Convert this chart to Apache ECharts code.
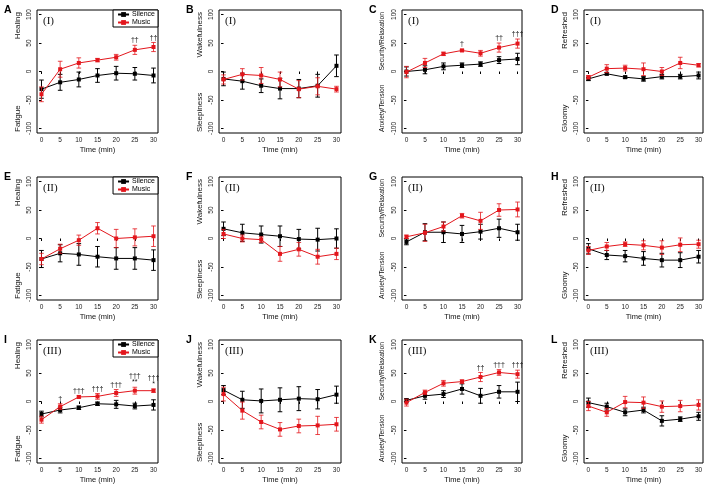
<!DOCTYPE html>
<html>
<head>
<meta charset="utf-8">
<script src="https://cdn.jsdelivr.net/npm/echarts@6.0.0/dist/echarts.min.js"></script>
<style>html,body{margin:0;padding:0;background:#fff;}#chart{width:708px;height:488px;}</style>
</head>
<body>
<div id="chart"></div>
<script>
// ---------------- data ----------------
const times = [0, 5, 10, 15, 20, 25, 30];
const xTicks = [0, 5, 10, 15, 20, 25, 30];
const yTicks = [-100, -50, 0, 50, 100];
const seriesNames = ['Silence', 'Music'];

const A_sil = [-31, -19, -14, -7, -3, -4, -7];
const A_silSE = [16, 14, 13, 12, 12, 11, 13];
const A_mus = [-40, 4, 15, 20, 25, 38, 43];
const A_musSE = [13, 14, 9, 3, 5, 8, 8];
const A_ann = ['', '', '', '', '', '††', '††'];

const B_sil = [-13, -17, -25, -30, -30, -25, 10];
const B_silSE = [12, 14, 12, 18, 16, 20, 19];
const B_mus = [-14, -5, -7, -14, -31, -26, -31];
const B_musSE = [8, 10, 14, 13, 15, 15, 5];
const B_ann = ['', '', '', '', '', '', ''];

const C_sil = [0, 3, 9, 11, 13, 20, 22];
const C_silSE = [8, 7, 6, 4, 4, 6, 10];
const C_mus = [-1, 15, 31, 37, 32, 42, 49];
const C_musSE = [10, 8, 3, 2, 5, 8, 8];
const C_ann = ['', '', '', '†', '', '††', '†††'];

const D_sil = [-13, -4, -10, -13, -9, -9, -7];
const D_silSE = [3, 2, 2, 4, 4, 4, 6];
const D_mus = [-10, 5, 6, 4, 0, 15, 11];
const D_musSE = [3, 7, 5, 11, 7, 10, 3];
const D_ann = ['', '', '', '', '', '', ''];

const E_sil = [-36, -26, -28, -32, -35, -35, -38];
const E_silSE = [15, 15, 19, 18, 19, 19, 18];
const E_mus = [-36, -18, -3, 18, 0, 2, 4];
const E_musSE = [10, 8, 9, 10, 16, 15, 18];
const E_ann = ['', '', '', '', '', '', ''];

const F_sil = [17, 10, 7, 4, -1, -2, 0];
const F_silSE = [12, 15, 15, 18, 17, 20, 17];
const F_mus = [8, 0, -2, -27, -19, -32, -27];
const F_musSE = [8, 6, 5, 13, 12, 13, 10];
const F_ann = ['', '', '', '', '', '', ''];

const G_sil = [-6, 11, 11, 8, 12, 18, 11];
const G_silSE = [5, 15, 18, 15, 13, 16, 14];
const G_mus = [3, 10, 21, 40, 31, 50, 51];
const G_musSE = [3, 15, 8, 4, 15, 11, 13];
const G_ann = ['', '', '', '', '', '', ''];

const H_sil = [-18, -29, -31, -35, -38, -38, -32];
const H_silSE = [9, 8, 10, 12, 12, 13, 11];
const H_mus = [-21, -14, -10, -12, -16, -11, -10];
const H_musSE = [7, 7, 4, 8, 12, 12, 7];
const H_ann = ['', '', '', '', '', '', ''];

const I_sil = [-22, -15, -11, -4, -5, -8, -6];
const I_silSE = [5, 5, 3, 3, 7, 5, 9];
const I_mus = [-32, -9, 8, 9, 15, 19, 19];
const I_musSE = [6, 5, 2, 5, 6, 6, 3];
const I_ann = ['', '†', '†††', '†††', '†††', '†††\n**', '†††\n*'];

const J_sil = [20, 3, 1, 3, 5, 4, 12];
const J_silSE = [8, 15, 21, 21, 21, 17, 15];
const J_mus = [13, -16, -36, -49, -43, -42, -40];
const J_musSE = [12, 15, 12, 12, 12, 16, 12];
const J_ann = ['', '', '', '', '', '', ''];

const K_sil = [2, 10, 13, 22, 10, 17, 17];
const K_silSE = [3, 6, 6, 9, 13, 11, 17];
const K_mus = [-2, 16, 32, 35, 43, 51, 48];
const K_musSE = [6, 4, 5, 3, 8, 5, 7];
const K_ann = ['', '', '', '', '††', '†††', '†††'];

const L_sil = [-2, -9, -19, -15, -34, -31, -26];
const L_silSE = [8, 6, 6, 5, 9, 4, 7];
const L_mus = [-8, -19, -1, -2, -9, -8, -6];
const L_musSE = [8, 7, 10, 10, 10, 10, 9];
const L_ann = ['', '', '', '', '', '', ''];

const panelLetters = ['A','B','C','D','E','F','G','H','I','J','K','L'];
const phaseLabels = ['(I)','(II)','(III)'];
const topTitles = ['Healing','Wakefulness','Security/Relaxation','Refreshed'];
const bottomTitles = ['Fatigue','Sleepiness','Anxiety/Tension','Gloomy'];

const panelData = [
  [A_sil, A_silSE, A_mus, A_musSE, A_ann],
  [B_sil, B_silSE, B_mus, B_musSE, B_ann],
  [C_sil, C_silSE, C_mus, C_musSE, C_ann],
  [D_sil, D_silSE, D_mus, D_musSE, D_ann],
  [E_sil, E_silSE, E_mus, E_musSE, E_ann],
  [F_sil, F_silSE, F_mus, F_musSE, F_ann],
  [G_sil, G_silSE, G_mus, G_musSE, G_ann],
  [H_sil, H_silSE, H_mus, H_musSE, H_ann],
  [I_sil, I_silSE, I_mus, I_musSE, I_ann],
  [J_sil, J_silSE, J_mus, J_musSE, J_ann],
  [K_sil, K_silSE, K_mus, K_musSE, K_ann],
  [L_sil, L_silSE, L_mus, L_musSE, L_ann]
];

// ---------------- layout & style ----------------
const colLeft = [37, 219, 402, 584];
const colWidth = [121, 122, 120, 119];
const rowTop = [10, 177, 340];
const rowHeight = 123;
const SANS = 'Liberation Sans, Arial, sans-serif';
const SERIF = 'Liberation Serif, Times New Roman, serif';
const BLACK = '#000000';
const RED = '#e3161c';
const RED_ERR = 'rgba(227,22,28,0.8)';

function errRender(color) {
  return function (params, api) {
    const x = api.value(0);
    const lo = api.coord([x, api.value(1)]);
    const hi = api.coord([x, api.value(2)]);
    const w = 2.3;
    const st = { stroke: color, lineWidth: 1 };
    return {
      type: 'group',
      children: [
        { type: 'line', shape: { x1: lo[0], y1: lo[1], x2: hi[0], y2: hi[1] }, style: st },
        { type: 'line', shape: { x1: lo[0] - w, y1: lo[1], x2: lo[0] + w, y2: lo[1] }, style: st },
        { type: 'line', shape: { x1: hi[0] - w, y1: hi[1], x2: hi[0] + w, y2: hi[1] }, style: st }
      ]
    };
  };
}

function annRender(labels) {
  return function (params, api) {
    const p = api.coord([api.value(0), api.value(1)]);
    const txt = labels[params.dataIndex];
    if (!txt) return null;
    return {
      type: 'text', x: p[0], y: p[1] - 1.5,
      style: { text: txt, align: 'center', verticalAlign: 'bottom', fontSize: 7, lineHeight: 6.5, fontFamily: SANS, fill: '#111' }
    };
  };
}

const grids = [], xAxes = [], yAxes = [], series = [], legends = [], graphics = [];

panelData.forEach((pd, i) => {
  const row = Math.floor(i / 4), col = i % 4;
  const L = colLeft[col], T = rowTop[row], W = colWidth[col], H = rowHeight;
  const [sil, silSE, mus, musSE, ann] = pd;

  grids.push({ left: L, top: T, width: W, height: H, show: true, borderColor: BLACK, borderWidth: 1, backgroundColor: 'transparent' });

  xAxes.push({
    gridIndex: i, type: 'value', min: -1.2, max: 31.2,
    axisLine: { show: false }, splitLine: { show: false },
    axisTick: { show: true, length: 2.5, customValues: xTicks, lineStyle: { color: BLACK, width: 1 } },
    axisLabel: { customValues: xTicks, fontSize: 6.5, color: '#222', margin: 3.5, fontFamily: SANS },
    name: 'Time (min)', nameLocation: 'middle', nameGap: 12.5,
    nameTextStyle: { fontSize: 7.5, color: '#111', fontFamily: SANS }
  });

  yAxes.push({
    gridIndex: i, type: 'value', min: -108, max: 108,
    axisLine: { show: false }, splitLine: { show: false },
    axisTick: { show: true, length: 2.5, customValues: yTicks, lineStyle: { color: BLACK, width: 1 } },
    axisLabel: { customValues: yTicks, fontSize: 6.5, rotate: 90, color: '#222', margin: 4, fontFamily: SANS }
  });

  const silPts = times.map((t, j) => [t, sil[j]]);
  const musPts = times.map((t, j) => [t, mus[j]]);
  const silErr = times.map((t, j) => [t, sil[j] - silSE[j], sil[j] + silSE[j]]);
  const musErr = times.map((t, j) => [t, mus[j] - musSE[j], mus[j] + musSE[j]]);
  const annPts = times.map((t, j) => [t, Math.max(mus[j] + musSE[j], sil[j] + silSE[j])]);

  series.push({
    type: 'custom', name: 'Silence SE', xAxisIndex: i, yAxisIndex: i,
    renderItem: errRender(BLACK), data: silErr, encode: { x: 0, y: [1, 2] }, z: 2, silent: true
  });
  series.push({
    type: 'line', name: seriesNames[0], xAxisIndex: i, yAxisIndex: i, data: silPts,
    symbol: 'rect', symbolSize: 4, showSymbol: true,
    itemStyle: { color: BLACK }, lineStyle: { color: BLACK, width: 1 }, z: 3
  });
  series.push({
    type: 'custom', name: 'Music SE', xAxisIndex: i, yAxisIndex: i,
    renderItem: errRender(RED_ERR), data: musErr, encode: { x: 0, y: [1, 2] }, z: 4, silent: true
  });
  series.push({
    type: 'line', name: seriesNames[1], xAxisIndex: i, yAxisIndex: i, data: musPts,
    symbol: 'rect', symbolSize: 4, showSymbol: true,
    itemStyle: { color: RED }, lineStyle: { color: RED, width: 1 }, z: 5
  });
  series.push({
    type: 'custom', name: 'Annotations', xAxisIndex: i, yAxisIndex: i,
    renderItem: annRender(ann), data: annPts, encode: { x: 0, y: 1 }, z: 6, silent: true, clip: false
  });

  if (col === 0) {
    legends.push({
      data: seriesNames, orient: 'vertical',
      right: 708 - (L + W), top: T,
      itemWidth: 11, itemHeight: 6, itemGap: 1,
      padding: [1, 3, 1, 4],
      borderColor: BLACK, borderWidth: 1, borderRadius: 0, backgroundColor: '#fff',
      textStyle: { fontSize: 7, color: '#000', fontFamily: SANS, padding: [0, 0, 0, -2] },
      selectedMode: false
    });
  }

  // panel letter
  graphics.push({
    type: 'text', x: L - 33, y: T - 5,
    style: { text: panelLetters[i], fontSize: 10.5, fontWeight: 'bold', fontFamily: SANS, fill: '#000', align: 'left', verticalAlign: 'top' }
  });
  // phase label
  graphics.push({
    type: 'text', x: L + 6, y: T + 11,
    style: { text: phaseLabels[row], fontSize: 11, fontFamily: SERIF, fill: '#111', align: 'left', verticalAlign: 'middle' }
  });
  const tSize = col === 2 ? 6.8 : 8;
  graphics.push({
    type: 'text', x: L - 19.5, y: T + 2, rotation: Math.PI / 2,
    style: { text: topTitles[col], fontSize: tSize, fontFamily: SANS, fill: '#111', align: 'right', verticalAlign: 'middle' }
  });
  graphics.push({
    type: 'text', x: L - 19.5, y: T + H - 1, rotation: Math.PI / 2,
    style: { text: bottomTitles[col], fontSize: tSize, fontFamily: SANS, fill: '#111', align: 'left', verticalAlign: 'middle' }
  });
});

const chart = echarts.init(document.getElementById('chart'), null, { renderer: 'canvas' });
chart.setOption({
  animation: false,
  backgroundColor: '#ffffff',
  textStyle: { fontFamily: SANS },
  grid: grids,
  xAxis: xAxes,
  yAxis: yAxes,
  legend: legends,
  series: series,
  graphic: { elements: graphics }
});
</script>
</body>
</html>
